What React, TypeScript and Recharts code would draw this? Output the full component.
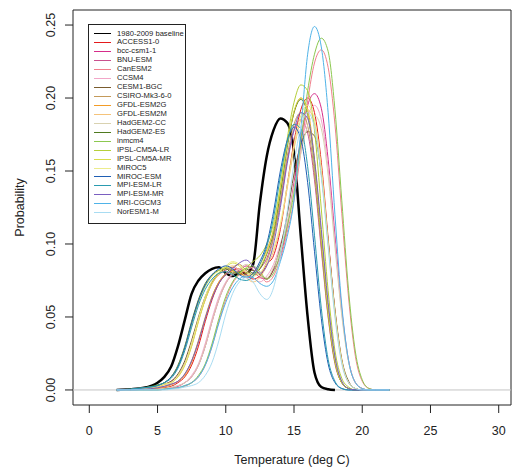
import React from 'react';
import {
  LineChart,
  Line,
  XAxis,
  YAxis,
  ReferenceLine,
  ReferenceArea,
  Legend,
  Label
} from 'recharts';

const FONT = "Arial, 'Liberation Sans', Helvetica, sans-serif";

// temperature grid (deg C)
const temps = [2, 3, 4, 5, 5.5, 6, 6.5, 7, 7.5, 8, 8.5, 9, 9.5, 10, 10.5, 11, 11.5, 12, 12.5, 13, 13.5, 14, 14.5, 15, 15.5, 16, 16.5, 17, 17.5, 18, 18.5, 19, 19.5, 20, 20.5, 21, 22];

const baseline = [0, 0.0005, 0.0015, 0.005, 0.009, 0.016, 0.03, 0.048, 0.066, 0.075, 0.08, 0.083, 0.084, 0.08, 0.078, 0.08, 0.08, 0.086, 0.128, 0.16, 0.178, 0.186, 0.183, 0.163, 0.105, 0.05, 0.012, 0.002, 0.0005, 0, null, null, null, null, null, null, null];
const access10 = [0, 0, 0.0005, 0.001, 0.0015, 0.0025, 0.005, 0.009, 0.017, 0.03, 0.047, 0.062, 0.073, 0.079, 0.082, 0.083, 0.079, 0.076, 0.078, 0.086, 0.092, 0.11, 0.14, 0.17, 0.192, 0.2, 0.19, 0.156, 0.104, 0.054, 0.02, 0.005, 0.001, 0, 0, 0, 0];
const bccCsm11 = [0, 0, 0, 0.0005, 0.001, 0.0015, 0.0025, 0.005, 0.009, 0.017, 0.03, 0.047, 0.062, 0.073, 0.079, 0.082, 0.085, 0.082, 0.077, 0.076, 0.082, 0.092, 0.112, 0.142, 0.172, 0.195, 0.203, 0.193, 0.158, 0.106, 0.055, 0.02, 0.005, 0.001, 0, 0, 0];
const bnuEsm = [0, 0.0003, 0.001, 0.0025, 0.004, 0.006, 0.01, 0.018, 0.031, 0.048, 0.062, 0.073, 0.079, 0.082, 0.084, 0.081, 0.077, 0.078, 0.083, 0.09, 0.105, 0.128, 0.157, 0.178, 0.185, 0.176, 0.144, 0.096, 0.05, 0.018, 0.005, 0.001, 0, 0, 0, 0, 0];
const canEsm2 = [0, 0, 0, 0, 0.0005, 0.001, 0.0015, 0.0025, 0.005, 0.009, 0.017, 0.03, 0.047, 0.062, 0.073, 0.079, 0.082, 0.084, 0.079, 0.074, 0.078, 0.09, 0.108, 0.13, 0.163, 0.198, 0.224, 0.233, 0.221, 0.182, 0.121, 0.063, 0.023, 0.006, 0.001, 0, 0];
const ccsm4 = [0, 0, 0, 0.0005, 0.001, 0.0015, 0.003, 0.005, 0.01, 0.018, 0.032, 0.049, 0.064, 0.074, 0.08, 0.083, 0.081, 0.077, 0.074, 0.078, 0.086, 0.1, 0.115, 0.139, 0.166, 0.187, 0.195, 0.185, 0.152, 0.101, 0.053, 0.02, 0.005, 0.001, 0, 0, 0];
const cesm1Bgc = [0, 0.0003, 0.001, 0.0025, 0.004, 0.006, 0.011, 0.02, 0.034, 0.05, 0.064, 0.074, 0.08, 0.083, 0.082, 0.079, 0.08, 0.082, 0.079, 0.076, 0.083, 0.098, 0.12, 0.148, 0.168, 0.177, 0.174, 0.148, 0.102, 0.055, 0.021, 0.006, 0.001, 0, 0, 0, 0];
const csiroMk360 = [0, 0, 0.0005, 0.0015, 0.0025, 0.004, 0.006, 0.011, 0.02, 0.034, 0.05, 0.064, 0.074, 0.08, 0.084, 0.086, 0.082, 0.079, 0.08, 0.088, 0.104, 0.13, 0.16, 0.182, 0.19, 0.181, 0.148, 0.099, 0.051, 0.019, 0.005, 0.001, 0, 0, 0, 0, 0];
const gfdlEsm2g = [0, 0, 0.0005, 0.001, 0.002, 0.0035, 0.006, 0.01, 0.019, 0.033, 0.049, 0.064, 0.074, 0.079, 0.081, 0.08, 0.078, 0.08, 0.086, 0.096, 0.11, 0.137, 0.168, 0.19, 0.2, 0.192, 0.158, 0.106, 0.055, 0.02, 0.005, 0.001, 0, 0, 0, 0, 0];
const gfdlEsm2m = [0, 0.0003, 0.001, 0.002, 0.0035, 0.005, 0.009, 0.017, 0.03, 0.047, 0.062, 0.073, 0.079, 0.083, 0.085, 0.082, 0.077, 0.074, 0.077, 0.085, 0.095, 0.112, 0.138, 0.165, 0.185, 0.192, 0.183, 0.15, 0.1, 0.052, 0.019, 0.005, 0.001, 0, 0, 0, 0];
const hadgem2Cc = [0, 0, 0, 0.0005, 0.001, 0.002, 0.003, 0.005, 0.009, 0.017, 0.03, 0.047, 0.062, 0.073, 0.079, 0.083, 0.086, 0.083, 0.078, 0.077, 0.084, 0.096, 0.114, 0.138, 0.162, 0.181, 0.188, 0.179, 0.147, 0.098, 0.051, 0.019, 0.005, 0.001, 0, 0, 0];
const hadgem2Es = [0, 0.0005, 0.0015, 0.0035, 0.005, 0.009, 0.017, 0.03, 0.047, 0.062, 0.073, 0.079, 0.082, 0.083, 0.08, 0.081, 0.083, 0.08, 0.083, 0.093, 0.108, 0.135, 0.166, 0.19, 0.199, 0.189, 0.155, 0.104, 0.054, 0.02, 0.005, 0.001, 0, 0, 0, 0, 0];
const inmcm4 = [0, 0, 0, 0, 0.0005, 0.001, 0.0015, 0.003, 0.005, 0.01, 0.018, 0.032, 0.049, 0.064, 0.074, 0.08, 0.083, 0.085, 0.081, 0.076, 0.08, 0.094, 0.112, 0.135, 0.17, 0.205, 0.23, 0.241, 0.232, 0.192, 0.13, 0.068, 0.026, 0.007, 0.001, 0, 0];
const ipslLr = [0, 0.0005, 0.0015, 0.003, 0.005, 0.009, 0.016, 0.029, 0.045, 0.06, 0.071, 0.078, 0.082, 0.084, 0.082, 0.08, 0.084, 0.088, 0.092, 0.1, 0.114, 0.14, 0.172, 0.197, 0.209, 0.205, 0.178, 0.124, 0.068, 0.027, 0.008, 0.002, 0, 0, 0, 0, 0];
const ipslMr = [0, 0.0003, 0.001, 0.0025, 0.004, 0.005, 0.009, 0.017, 0.03, 0.047, 0.062, 0.073, 0.08, 0.084, 0.087, 0.085, 0.08, 0.079, 0.084, 0.094, 0.11, 0.138, 0.168, 0.191, 0.2, 0.19, 0.156, 0.104, 0.054, 0.02, 0.005, 0.001, 0, 0, 0, 0, 0];
const miroc5 = [0, 0.0003, 0.001, 0.0025, 0.004, 0.005, 0.01, 0.018, 0.032, 0.049, 0.064, 0.075, 0.081, 0.085, 0.088, 0.086, 0.081, 0.078, 0.08, 0.087, 0.097, 0.114, 0.14, 0.168, 0.188, 0.195, 0.185, 0.152, 0.101, 0.053, 0.02, 0.005, 0.001, 0, 0, 0, 0];
const mirocEsm = [0, 0.0005, 0.0015, 0.003, 0.005, 0.009, 0.016, 0.029, 0.046, 0.061, 0.072, 0.079, 0.083, 0.085, 0.083, 0.079, 0.077, 0.08, 0.088, 0.1, 0.122, 0.15, 0.171, 0.18, 0.172, 0.142, 0.095, 0.049, 0.018, 0.005, 0.001, 0, 0, 0, 0, 0, 0];
const mpiEsmLr = [0, 0.0005, 0.0015, 0.003, 0.005, 0.008, 0.015, 0.027, 0.043, 0.058, 0.069, 0.076, 0.08, 0.081, 0.079, 0.076, 0.075, 0.078, 0.086, 0.098, 0.118, 0.146, 0.17, 0.182, 0.179, 0.153, 0.106, 0.056, 0.021, 0.006, 0.001, 0, 0, 0, 0, 0, 0];
const mpiEsmMr = [0, 0, 0.0005, 0.0015, 0.0025, 0.004, 0.006, 0.011, 0.02, 0.033, 0.049, 0.063, 0.073, 0.079, 0.083, 0.087, 0.089, 0.085, 0.08, 0.085, 0.1, 0.125, 0.155, 0.178, 0.19, 0.186, 0.158, 0.11, 0.06, 0.023, 0.006, 0.001, 0, 0, 0, 0, 0];
const mriCgcm3 = [0, 0, 0, 0, 0.0005, 0.001, 0.0015, 0.003, 0.005, 0.009, 0.017, 0.03, 0.046, 0.06, 0.07, 0.076, 0.078, 0.077, 0.073, 0.071, 0.075, 0.088, 0.105, 0.13, 0.178, 0.23, 0.249, 0.235, 0.19, 0.12, 0.058, 0.02, 0.005, 0.001, 0, 0, 0];
const noresm1M = [0, 0, 0, 0, 0, 0.0005, 0.001, 0.002, 0.003, 0.005, 0.01, 0.019, 0.034, 0.052, 0.066, 0.074, 0.077, 0.074, 0.066, 0.062, 0.07, 0.092, 0.122, 0.155, 0.18, 0.19, 0.18, 0.146, 0.098, 0.05, 0.018, 0.005, 0.001, 0, 0, 0, 0];

const xTicks = [0, 5, 10, 15, 20, 25, 30];
const yTicks = [0, 0.05, 0.1, 0.15, 0.2, 0.25];
const xDomain = [-1.194, 30.9];
const yDomain = [-0.0103, 0.2603];

const series = [
  { name: '1980-2009 baseline', values: baseline, color: '#000000', width: 2.5 },
  { name: 'ACCESS1-0', values: access10, color: '#e41a1c', width: 1 },
  { name: 'bcc-csm1-1', values: bccCsm11, color: '#d62d8a', width: 1 },
  { name: 'BNU-ESM', values: bnuEsm, color: '#c9518e', width: 1 },
  { name: 'CanESM2', values: canEsm2, color: '#f07f8c', width: 1 },
  { name: 'CCSM4', values: ccsm4, color: '#f2a6c8', width: 1 },
  { name: 'CESM1-BGC', values: cesm1Bgc, color: '#7a5c2e', width: 1 },
  { name: 'CSIRO-Mk3-6-0', values: csiroMk360, color: '#c49a5a', width: 1 },
  { name: 'GFDL-ESM2G', values: gfdlEsm2g, color: '#f39c27', width: 1 },
  { name: 'GFDL-ESM2M', values: gfdlEsm2m, color: '#f5c37a', width: 1 },
  { name: 'HadGEM2-CC', values: hadgem2Cc, color: '#d9d2b0', width: 1 },
  { name: 'HadGEM2-ES', values: hadgem2Es, color: '#4f7a1f', width: 1 },
  { name: 'inmcm4', values: inmcm4, color: '#8cc850', width: 1 },
  { name: 'IPSL-CM5A-LR', values: ipslLr, color: '#b5cf3a', width: 1 },
  { name: 'IPSL-CM5A-MR', values: ipslMr, color: '#d8dc4a', width: 1 },
  { name: 'MIROC5', values: miroc5, color: '#ecec8c', width: 1 },
  { name: 'MIROC-ESM', values: mirocEsm, color: '#1f5fb4', width: 1 },
  { name: 'MPI-ESM-LR', values: mpiEsmLr, color: '#2a9bb0', width: 1 },
  { name: 'MPI-ESM-MR', values: mpiEsmMr, color: '#7a5fc0', width: 1 },
  { name: 'MRI-CGCM3', values: mriCgcm3, color: '#4fb3e8', width: 1 },
  { name: 'NorESM1-M', values: noresm1M, color: '#a8dcf2', width: 1 }
];

const rows = temps.map((t, i) => {
  const row: Record<string, number | null> = { t };
  series.forEach((s) => {
    row[s.name] = s.values[i];
  });
  return row;
});

const XTick = ({ x, y, payload }: any) => (
  <text x={x} y={y + 19.5} textAnchor="middle" fontSize={12.5} fontFamily={FONT} fill="#222">
    {payload.value}
  </text>
);

const YTick = ({ x, y, payload }: any) => (
  <text
    x={x - 8}
    y={y}
    transform={`rotate(-90, ${x - 8}, ${y})`}
    textAnchor="middle"
    fontSize={12.5}
    fontFamily={FONT}
    fill="#222"
  >
    {Number(payload.value).toFixed(2)}
  </text>
);

const LegendBox = () => (
  <div
    style={{
      width: 98,
      height: 200,
      border: '1px solid #222',
      boxSizing: 'border-box',
      paddingTop: 4.5,
      fontFamily: FONT,
      fontSize: 7.6,
      color: '#222'
    }}
  >
    {series.map((s) => (
      <div key={s.name} style={{ display: 'flex', alignItems: 'center', height: 8.95 }}>
        <span
          style={{
            display: 'inline-block',
            width: 17,
            marginLeft: 5,
            marginRight: 6,
            borderTop: `${s.width > 1 ? 1.5 : 1}px solid ${s.color}`
          }}
        />
        <span style={{ whiteSpace: 'nowrap', lineHeight: '8.95px' }}>{s.name}</span>
      </div>
    ))}
  </div>
);

export default function App() {
  return (
    <div style={{ position: 'absolute', left: 0, top: 0, width: 513, height: 473, background: '#fff' }}>
      <LineChart width={513} height={473} data={rows} margin={{ top: 10, right: 2, bottom: 0, left: 0 }}>
        <XAxis
          dataKey="t"
          type="number"
          domain={xDomain}
          ticks={xTicks}
          allowDataOverflow
          height={68}
          axisLine={false}
          tickSize={8}
          tickLine={{ stroke: '#222' }}
          tick={<XTick />}
          interval={0}
        >
          <Label
            content={({ viewBox }: any) => (
              <text
                x={viewBox.x + viewBox.width / 2}
                y={viewBox.y + 59}
                textAnchor="middle"
                fontSize={12.5}
                fontFamily={FONT}
                fill="#222"
              >
                Temperature (deg C)
              </text>
            )}
          />
        </XAxis>
        <YAxis
          type="number"
          domain={yDomain}
          ticks={yTicks}
          allowDataOverflow
          width={73}
          axisLine={false}
          tickSize={8}
          tickLine={{ stroke: '#222' }}
          tick={<YTick />}
          interval={0}
        >
          <Label
            content={({ viewBox }: any) => {
              const cy = viewBox.y + viewBox.height / 2;
              return (
                <text
                  x={24}
                  y={cy}
                  transform={`rotate(-90, 24, ${cy})`}
                  textAnchor="middle"
                  fontSize={12.5}
                  fontFamily={FONT}
                  fill="#222"
                >
                  Probability
                </text>
              );
            }}
          />
        </YAxis>
        <ReferenceLine y={0} stroke="#c4c4c4" strokeWidth={1} />
        {series.map((s) => (
          <Line
            key={s.name}
            type="monotone"
            dataKey={s.name}
            stroke={s.color}
            strokeWidth={s.width}
            dot={false}
            activeDot={false}
            isAnimationActive={false}
          />
        ))}
        <ReferenceArea
          x1={xDomain[0]}
          x2={xDomain[1]}
          y1={yDomain[0]}
          y2={yDomain[1]}
          fill="none"
          stroke="#222"
          strokeWidth={1}
          ifOverflow="visible"
        />
        <Legend
          layout="vertical"
          align="center"
          verticalAlign="middle"
          wrapperStyle={{ left: 88, top: 24, width: 98, height: 200 }}
          content={() => <LegendBox />}
        />
      </LineChart>
    </div>
  );
}
